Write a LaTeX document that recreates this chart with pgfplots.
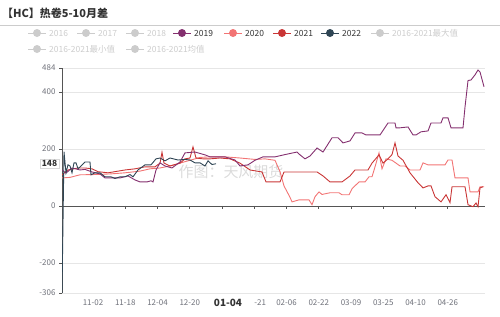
\documentclass[border=0pt]{standalone}
\usepackage{pgfplots}
\pgfplotsset{compat=1.18}
\usepackage{fontspec}
\setmainfont{Noto Sans CJK SC}
\definecolor{c2019}{HTML}{84306F}
\definecolor{c2020}{HTML}{F27474}
\definecolor{c2021}{HTML}{C93535}
\definecolor{c2022}{HTML}{2F4554}
\definecolor{inact}{HTML}{CCCCCC}
\definecolor{txt}{HTML}{333333}
\definecolor{tickc}{HTML}{6E7079}
\definecolor{gridc}{HTML}{E6E6E6}
\definecolor{axc}{HTML}{555555}
\newcommand{\legitem}[5]{%
  \draw[#3, line width=1pt] (#1-9,#2) -- (#1+9,#2);
  \fill[#3] (#1,#2) circle (4);
  \node[anchor=west, text=#4, font=\fontsize{8.5}{10}\selectfont, inner sep=0pt] at (#1+12,#2) {#5};}
\begin{document}
\begin{tikzpicture}[x=1bp,y=1bp]
\path[use as bounding box] (0,0) rectangle (500,316);
\node[anchor=west, font=\fontsize{11}{13}\selectfont\bfseries, text=txt, inner sep=0pt] at (2,303) {【HC】热卷5-10月差};
\draw[inact, line width=0.6pt] (0,291) -- (500,291);
\legitem{37}{283}{inact}{inact}{2016}
\legitem{86}{283}{inact}{inact}{2017}
\legitem{135}{283}{inact}{inact}{2018}
\legitem{182}{283}{c2019}{txt}{2019}
\legitem{233}{283}{c2020}{txt}{2020}
\legitem{282}{283}{c2021}{txt}{2021}
\legitem{330}{283}{c2022}{txt}{2022}
\legitem{380}{283}{inact}{inact}{2016-2021最大值}
\legitem{37}{267}{inact}{inact}{2016-2021最小值}
\legitem{135}{267}{inact}{inact}{2016-2021均值}
\begin{axis}[at={(62bp,23bp)}, anchor=south west, scale only axis,
  width=423bp, height=225bp,
  xmin=0, xmax=423, ymin=-306, ymax=484,
  axis lines=left, axis line style={-},
  x axis line style={draw=none},
  y axis line style={draw=axc, line width=0.7pt},
  x tick style={draw=none},
  y tick style={draw=axc, line width=0.6pt},
  tick align=outside, major tick length=3bp,
  ytick={-306,-200,0,200,400,484},
  yticklabels={-306,-200,0,200,400,484},
  ymajorgrids, grid style={gridc, line width=0.6pt},
  xtick={31,63.25,95.5,127.75,160,192.25,224.5,256.75,289,321.25,353.5,385.75},
  xticklabels={11-02,11-18,12-04,12-20,{\hspace*{12bp}\fontsize{10}{12}\selectfont\bfseries\color{txt}01-04},{\hspace*{12bp}-21},02-06,02-22,03-09,03-25,04-10,04-26},
  xticklabel style={font=\fontsize{8}{10}\selectfont, text=tickc},
  yticklabel style={font=\fontsize{8}{10}\selectfont, text=tickc},
  clip mode=individual,
]
\node[text=black!14, font=\fontsize{15}{17}\selectfont] at (axis cs:169,119) {作图：天风期货};
\draw[axc, line width=0.7pt] (axis cs:0,0) -- (axis cs:423,0);
\pgfplotsinvokeforeach{31,63.25,95.5,127.75,160,192.25,224.5,256.75,289,321.25,353.5,385.75}{
  \draw[axc, line width=0.6pt] (axis cs:#1,0) -- ([yshift=-3.5bp]axis cs:#1,0);
}
\addplot[c2020, line width=0.9pt] coordinates {
(0,98) (8,100) (18,109) (33,110) (48,112) (63,116) (78,122) (88,130) (98,133) (108,140) (118,150) (128,160) (138,170) (148,172) (163,172) (178,168) (193,163) (203,165) (213,160) (218,120) (222,70) (228,30) (230,14) (237,21) (247,21) (250,4) (253,32) (257,49) (260,40) (268,46) (277,46) (280,39) (287,39) (290,60) (297,84) (303,84) (307,102) (310,102) (313,137) (317,186) (320,130) (324,165) (330,160) (334,150) (338,140) (343,140) (348,126) (353,126) (358,126) (361,151) (366,144) (383,144) (386,161) (390,161) (393,98) (406,98) (408,49) (416,49) (418,67) (422,67)};
\addplot[c2021, line width=0.9pt] coordinates {
(0,109) (6,126) (16,133) (23,133) (30,130) (36,120) (46,116) (63,126) (73,130) (83,137) (93,137) (98,150) (100,188) (102,150) (108,140) (118,150) (123,165) (128,168) (131,207) (134,168) (141,165) (148,165) (158,168) (168,165) (178,150) (188,126) (200,119) (204,84) (218,84) (222,119) (255,119) (261,105) (268,84) (280,84) (288,105) (293,126) (306,126) (310,150) (317,179) (321,150) (326,165) (330,180) (333,221) (336,175) (341,160) (348,116) (356,81) (361,63) (366,70) (369,70) (373,32) (379,14) (384,39) (388,11) (390,67) (403,67) (406,4) (411,-3) (414,10) (416,-3) (418,63) (421,67)};
\addplot[c2019, line width=0.9pt] coordinates {
(0,126) (4,115) (10,133) (18,126) (23,128) (30,119) (38,112) (43,98) (58,98) (66,105) (73,91) (78,84) (85,84) (89,88) (91,84) (94,126) (98,151) (103,140) (110,133) (118,154) (123,186) (133,189) (143,179) (148,172) (163,172) (173,161) (178,140) (186,144) (193,160) (201,172) (213,172) (223,180) (235,189) (238,179) (243,165) (248,175) (255,203) (261,189) (270,239) (276,239) (281,221) (288,228) (293,256) (300,256) (304,249) (318,249) (326,291) (333,291) (334,274) (338,274) (346,277) (351,249) (354,249) (359,260) (366,263) (369,291) (379,291) (381,309) (386,309) (389,274) (401,274) (403,347) (406,440) (409,442) (413,460) (416,477) (418,470) (422,418)};
\addplot[c2022, line width=0.9pt] coordinates {
(0,-306) (2,190) (4,116) (6,144) (8,140) (10,116) (12,151) (14,151) (16,130) (19,140) (23,154) (28,154) (29,109) (33,116) (38,116) (43,102) (49,102) (53,96) (58,102) (63,102) (68,110) (71,102) (76,126) (83,144) (89,144) (94,165) (98,168) (103,158) (108,168) (116,161) (123,163) (128,161) (133,151) (138,151) (143,140) (146,158) (150,145) (154,148)};
\node[anchor=east, xshift=-3bp, fill=white, draw=black!15, inner sep=1.5pt, text=txt, font=\fontsize{8.5}{10}\selectfont\bfseries] at (axis cs:0,148) {148};
\end{axis}
\end{tikzpicture}
\end{document}
